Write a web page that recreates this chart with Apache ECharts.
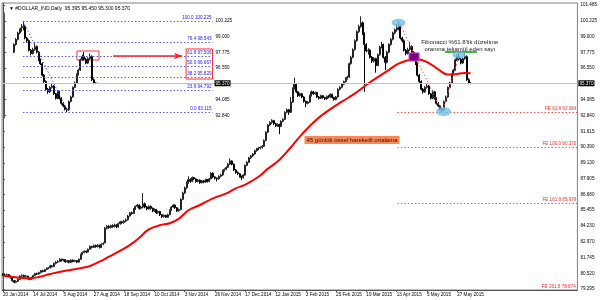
<!DOCTYPE html>
<html><head><meta charset="utf-8">
<script src="https://cdn.jsdelivr.net/npm/echarts@6/dist/echarts.min.js"></script>
<style>html,body{margin:0;padding:0;background:#fff}#c{width:600px;height:300px}</style>
</head><body><div id="c"></div>
<script>
const chartTitle = '\u25BC #DOLLAR_IND,Daily  95.395 95.450 95.300 95.370';
const tickLabels = ['20 Jun 2014','14 Jul 2014','5 Aug 2014','27 Aug 2014','18 Sep 2014','10 Oct 2014','3 Nov 2014','26 Nov 2014','17 Dec 2014','12 Jan 2015','3 Feb 2015','25 Feb 2015','19 Mar 2015','13 Apr 2015','5 May 2015','27 May 2015'];
const barsPerLabel = 16;
const slotCount = 304;
// daily bars: [open, close, low, high]
const ohlc = [
[80.45,80.40,80.30,80.52],[80.40,80.36,80.28,80.48],[80.36,80.42,80.30,80.50],[80.42,80.30,80.22,80.46],[80.30,80.18,80.10,80.35],
[80.18,79.95,79.88,80.22],[79.95,79.82,79.75,80.00],[79.82,79.90,79.76,79.98],[79.90,80.05,79.85,80.10],[80.05,80.30,80.00,80.36],
[80.30,80.36,80.24,80.45],[80.36,80.28,80.20,80.42],[80.28,80.30,80.18,80.38],[80.30,80.12,80.05,80.34],[80.12,80.05,79.98,80.18],
[80.05,80.20,80.00,80.26],[80.20,80.35,80.15,80.42],[80.35,80.50,80.30,80.56],[80.50,80.47,80.40,80.58],[80.47,80.58,80.42,80.65],
[80.58,80.72,80.52,80.78],[80.72,80.66,80.60,80.80],[80.66,80.82,80.62,80.88],[80.82,80.90,80.76,80.98],[80.90,80.95,80.84,81.02],
[80.95,81.10,80.90,81.18],[81.10,81.05,80.98,81.16],[81.05,81.30,81.00,81.36],[81.30,81.40,81.22,81.48],[81.40,81.45,81.32,81.55],
[81.45,81.62,81.40,81.70],[81.62,81.55,81.44,81.68],[81.55,81.58,81.45,81.66],[81.58,81.42,81.35,81.62],[81.42,81.50,81.36,81.58],
[81.50,81.38,81.30,81.56],[81.38,81.55,81.34,81.62],[81.55,81.45,81.38,81.60],[81.45,81.52,81.40,81.58],[81.52,81.40,81.32,81.56],
[81.40,81.62,81.36,81.68],[81.62,82.00,81.58,82.06],[82.00,82.15,81.94,82.22],[82.15,82.25,82.08,82.32],[82.25,82.18,82.10,82.30],
[82.18,82.40,82.14,82.46],[82.40,82.62,82.36,82.70],[82.62,82.55,82.46,82.68],[82.55,82.70,82.50,82.78],[82.70,82.60,82.52,82.76],
[82.60,82.72,82.54,82.80],[82.72,82.55,82.46,82.76],[82.55,82.80,82.50,82.86],[82.80,82.85,82.72,82.95],[82.90,84.05,82.86,84.15],
[84.05,84.20,83.95,84.30],[84.20,84.10,84.00,84.28],[84.10,84.25,84.02,84.32],[84.25,84.18,84.08,84.35],[84.18,84.30,84.10,84.40],
[84.30,84.15,84.05,84.36],[84.15,84.40,84.10,84.48],[84.40,84.55,84.32,84.62],[84.55,84.48,84.38,84.62],[84.48,84.60,84.40,84.70],
[84.60,84.70,84.52,84.80],[84.70,85.00,84.65,85.08],[85.00,85.25,84.95,85.32],[85.25,85.20,85.10,85.35],[85.20,85.55,85.15,85.62],
[85.55,85.75,85.48,85.82],[85.75,85.85,85.66,85.95],[85.85,85.60,85.50,85.90],[85.60,85.70,85.52,85.80],[85.70,85.95,85.60,86.80],
[85.95,85.70,85.60,86.05],[85.70,85.55,85.44,85.78],[85.55,85.75,85.50,85.84],[85.75,85.60,85.50,85.82],[85.60,85.40,85.30,85.66],
[85.40,85.50,85.32,85.60],[85.50,85.25,85.15,85.56],[85.25,85.35,85.18,85.44],[85.35,85.10,85.00,85.40],[85.10,84.95,84.85,85.15],
[84.95,85.05,84.88,85.12],[85.05,84.90,84.84,85.10],[84.90,85.10,84.86,85.18],[85.10,85.45,85.05,85.52],[85.45,85.70,85.40,85.78],
[85.70,85.85,85.62,85.92],[85.85,85.65,85.56,85.90],[85.65,85.40,85.32,85.70],[85.40,85.50,85.34,85.58],[85.50,86.30,85.46,86.38],
[86.30,86.80,86.24,86.90],[86.80,87.20,86.72,87.30],[87.20,87.60,87.12,87.70],[87.60,87.85,87.52,88.10],[87.85,87.70,87.60,87.95],
[87.70,88.00,87.64,88.08],[88.00,87.90,87.80,88.06],[87.90,87.70,87.60,87.95],[87.70,87.80,87.62,87.88],[87.80,87.60,87.52,87.86],
[87.60,87.75,87.55,87.82],[87.75,87.65,87.56,87.80],[87.65,87.85,87.60,87.92],[87.85,87.70,87.62,87.90],[87.70,87.90,87.64,87.98],
[87.90,88.35,87.86,88.42],[88.35,88.05,87.96,88.40],[88.05,87.95,87.85,88.10],[87.95,87.90,87.70,88.02],[87.90,88.10,87.84,88.18],
[88.10,88.20,88.02,88.30],[88.20,88.55,88.14,88.62],[88.55,88.65,88.46,88.72],[88.65,88.80,88.58,88.88],[88.80,89.05,88.74,89.14],
[89.05,89.30,88.98,89.50],[89.30,89.05,88.96,89.36],[89.05,88.60,88.52,89.10],[88.60,88.40,88.30,88.66],[88.40,88.30,88.20,88.48],
[88.30,88.10,88.00,88.36],[88.10,88.00,87.80,88.16],[88.00,88.20,87.92,88.26],[88.20,88.95,88.14,89.02],[88.95,89.20,88.88,89.28],
[89.20,89.55,89.14,89.62],[89.55,89.70,89.46,89.78],[89.70,89.85,89.62,89.92],[89.85,90.10,89.78,90.18],[90.10,90.25,90.02,90.32],
[90.25,90.30,90.14,90.40],[90.30,90.35,90.20,90.44],[90.35,90.45,90.26,90.54],[90.45,90.90,90.40,90.98],[90.90,91.55,90.84,91.62],
[91.55,92.10,91.48,92.18],[92.10,92.30,92.02,92.40],[92.30,92.45,92.18,92.56],[92.45,92.20,92.10,92.52],[92.20,92.05,91.96,92.28],
[92.05,92.15,91.96,92.24],[92.15,92.00,91.40,92.22],[92.00,92.40,91.94,92.48],[92.40,92.55,92.32,92.64],[92.55,93.10,92.50,93.18],
[93.10,93.30,93.02,93.40],[93.30,93.10,92.90,93.36],[93.10,93.90,93.04,94.30],[93.90,94.95,93.84,95.05],[94.95,95.30,94.88,95.80],
[95.30,94.70,94.60,95.36],[94.70,94.40,94.30,94.78],[94.40,94.55,94.32,94.64],[94.55,94.30,94.20,94.62],[94.30,93.95,93.86,94.36],
[93.95,93.80,93.50,94.02],[93.80,93.90,93.72,94.00],[93.90,94.40,93.84,94.48],[94.40,94.70,94.34,94.80],[94.70,94.55,94.46,94.78],
[94.55,94.65,94.48,94.72],[94.65,94.30,94.22,94.70],[94.30,94.20,94.10,94.38],[94.20,94.40,94.14,94.48],[94.40,94.25,94.16,94.46],
[94.25,94.15,94.06,94.32],[94.15,94.35,94.08,94.42],[94.35,94.30,94.20,94.44],[94.30,94.50,94.24,94.58],[94.50,94.25,94.16,94.56],
[94.25,94.10,94.00,94.32],[94.10,94.30,94.04,94.38],[94.30,94.90,94.24,94.98],[94.90,95.05,94.82,95.14],[95.05,95.30,94.98,95.38],
[95.30,95.50,95.22,95.58],[95.50,95.75,95.44,95.84],[95.75,95.85,95.66,95.95],[95.85,96.90,95.80,97.00],[96.90,97.40,96.82,97.52],
[97.40,98.00,97.32,98.10],[98.00,98.70,97.92,98.80],[98.70,99.40,98.62,99.50],[99.40,99.80,99.30,99.95],[99.80,100.10,99.70,100.60],
[100.10,99.25,99.15,100.20],[99.25,98.40,94.70,99.35],[98.40,97.90,97.80,98.50],[97.90,97.95,97.60,98.10],[97.95,97.40,97.30,98.05],
[97.40,97.10,96.95,97.50],[97.10,97.30,97.00,97.42],[97.30,96.75,96.20,97.36],[96.75,97.60,96.70,97.70],[97.60,98.20,97.52,98.30],
[98.20,98.40,98.10,98.60],[98.40,97.40,97.30,98.46],[97.40,97.00,96.40,97.50],[97.00,97.80,96.92,97.90],[97.80,98.40,97.72,98.50],
[98.40,98.80,98.30,98.90],[98.80,99.30,98.72,99.40],[99.30,99.55,99.20,99.65],[99.55,99.70,99.40,100.00],[99.70,99.80,99.50,100.225],
[99.80,98.90,98.80,99.90],[98.90,98.70,98.55,99.00],[98.70,97.95,97.85,98.80],[97.95,97.70,97.55,98.05],[97.70,98.00,97.62,98.15],
[98.00,98.25,97.90,98.60],[98.25,97.80,97.70,98.32],[97.80,97.20,97.10,97.88],[97.20,96.90,96.80,97.30],[96.90,96.00,95.90,97.00],
[96.00,95.50,95.40,96.10],[95.50,94.90,94.80,95.60],[94.90,94.70,94.55,95.00],[94.70,95.05,94.62,95.15],[95.05,95.15,94.95,95.40],
[95.15,94.55,94.45,95.22],[94.55,94.20,94.10,94.62],[94.20,94.70,94.12,94.85],[94.70,94.20,94.10,94.78],[94.20,93.80,93.70,94.28],
[93.80,93.60,93.50,93.90],[93.60,93.35,93.25,93.68],[93.35,93.30,93.115,93.45],[93.30,93.95,93.22,94.02],[93.95,94.30,93.88,94.40],
[94.30,95.05,94.24,95.12],[95.05,95.40,94.98,95.50],[95.40,96.05,95.34,96.14],[96.05,96.40,95.98,96.50],[96.40,97.20,96.34,97.30],
[97.20,97.45,97.10,97.60],[97.45,97.25,97.15,97.80],[97.25,96.95,96.85,97.35],[96.95,97.30,96.88,97.40],[97.30,97.45,97.20,97.70],
[97.45,95.65,95.55,97.55],[95.65,95.40,95.30,95.75],[95.395,95.370,95.300,95.450]
];
// 45-day EMA: [bar index, value]
const ema45 = [[0,80.33],[4,80.26],[9,80.18],[14,80.13],[19,80.24],[25,80.47],[33,80.73],[41,80.92],[46,81.09],[51,81.43],[56,81.82],[62,82.29],[67,82.73],[72,83.30],[77,83.95],[83,84.28],[88,84.43],[93,84.80],[98,85.45],[104,85.86],[111,86.38],[118,86.77],[123,87.16],[128,87.45],[135,88.07],[140,88.70],[146,89.38],[152,90.35],[158,91.40],[165,92.45],[172,93.25],[179,93.93],[186,94.58],[193,95.35],[198,95.85],[204,96.42],[209,96.90],[214,97.17],[219,97.24],[225,96.95],[230,96.45],[235,96.05],[239,96.08],[244,96.18],[247,96.15]];
const priceTicks = [101.485,100.225,99.000,97.775,96.550,94.085,92.840,91.615,90.390,89.130,87.905,86.680,85.455,84.230,82.970,81.745,80.520,79.295];
const insetTicks = [100.225,99.000,97.775,96.550,94.085,92.840];
const lastClose = 95.370;
const fibLevels = [100.0,76.4,61.8,50.0,38.2,23.6,0.0];
const fibValues = [100.225,98.543,97.506,96.667,95.829,94.792,93.115];
const feLevels = [61.8,100.0,161.8,261.8];
const feValues = [93.084,90.370,85.979,78.874];
const emaLabel = '45 günlük üssel hareketli ortalama';
const noteLines = ["Fibonacci %61.8'lik düzeltme", 'oranına tekamül eden sayı'];

// anchors (bar index, price) of the Fibonacci tools
const ptA = [209, 100.225], ptB = [232, 93.115], ptC = [241, 97.48];
const insetOffset = 199, insetFirst = 204, insetSlots = 110;

const categories = Array.from({length: slotCount}, (_, i) => String(i));
const insetCats = Array.from({length: insetSlots}, (_, i) => String(i));
const insetData = insetCats.map((_, j) => { const k = j + insetOffset; return (k >= insetFirst && k < ohlc.length) ? ohlc[k] : '-'; });

const FONT = 'Liberation Sans';
const candleStyle = {color: '#8a8a8a', borderColor: '#222', color0: '#000', borderColor0: '#000', borderWidth: 1};
const chart = echarts.init(document.getElementById('c'), null, {renderer: 'canvas'});
const fs = 4.6;

chart.setOption({
  animation: false,
  backgroundColor: '#fff',
  textStyle: {fontFamily: FONT},
  title: {text: chartTitle, left: 4, top: 1, textStyle: {fontSize: 5, fontWeight: 'normal', color: '#000', fontFamily: FONT}},
  grid: [
    {left: 2, right: 20, top: 3, bottom: 10, show: true, borderColor: '#808080', borderWidth: 1},
    {left: 3.36, width: 209.15, top: 13, height: 105, show: false}
  ],
  xAxis: [
    {type: 'category', gridIndex: 0, data: categories, boundaryGap: true,
     axisLine: {lineStyle: {color: '#555'}},
     axisTick: {show: true, length: 2, alignWithLabel: true, interval: (i) => i % barsPerLabel === 0 && i / barsPerLabel < tickLabels.length, lineStyle: {color: '#555'}},
     axisLabel: {interval: (i) => i % barsPerLabel === 0 && i / barsPerLabel < tickLabels.length,
       formatter: (v, i) => tickLabels[Math.round(i / barsPerLabel)] || '', fontSize: fs, color: '#000', align: 'left', margin: 2}},
    {type: 'category', gridIndex: 1, data: insetCats, boundaryGap: true, show: false},
    {type: 'value', gridIndex: 0, min: -0.5, max: slotCount - 0.5, show: false},
    {type: 'value', gridIndex: 1, min: -0.5, max: insetSlots - 0.5, show: false}
  ],
  yAxis: [
    {type: 'value', gridIndex: 0, position: 'right', min: 79.219, max: 101.641, splitLine: {show: false},
     axisLine: {show: true, lineStyle: {color: '#555'}},
     axisTick: {show: true, length: 2, customValues: priceTicks, lineStyle: {color: '#555'}},
     axisLabel: {customValues: priceTicks, formatter: (v) => v.toFixed(3), fontSize: fs, color: '#000', margin: 3}},
    {type: 'value', gridIndex: 1, position: 'right', min: 92.657, max: 100.860, splitLine: {show: false},
     axisLine: {show: true, lineStyle: {color: '#555'}},
     axisTick: {show: true, length: 2, customValues: insetTicks, lineStyle: {color: '#555'}},
     axisLabel: {customValues: insetTicks, formatter: (v) => v.toFixed(3), fontSize: fs, color: '#000', margin: 3}}
  ],
  series: [
    {type: 'candlestick', xAxisIndex: 0, yAxisIndex: 0, data: ohlc, barWidth: 1.5, itemStyle: candleStyle,
     markLine: {silent: true, symbol: ['none', 'none'], lineStyle: {color: '#c4c4c4', type: 'solid', width: 1},
       label: {position: 'end', distance: 1, formatter: lastClose.toFixed(3), backgroundColor: '#000', color: '#fff', fontSize: fs, padding: [1, 1, 0, 1]},
       data: [{yAxis: lastClose}]}},
    {type: 'line', xAxisIndex: 2, yAxisIndex: 0, data: ema45, smooth: 0.4, showSymbol: false, symbol: 'none',
     lineStyle: {color: '#ff0000', width: 2}, z: 3,
     markPoint: {silent: true, symbol: 'rect', symbolSize: 1, itemStyle: {color: 'rgba(0,0,0,0)'},
       data: [{coord: [184.4, 90.94], label: {show: true, position: 'inside', formatter: emaLabel, backgroundColor: '#f7885a', color: '#3a1000', padding: [1, 2], fontSize: 6}}]}},
    {type: 'line', xAxisIndex: 2, yAxisIndex: 0, data: [], z: 4,
     markLine: {silent: true, symbol: ['none', 'none'],
       label: {show: true, position: 'insideEndTop', distance: 1, fontSize: fs, color: '#ff3030'},
       lineStyle: {color: '#ff5050', type: [1.5, 2], width: 1},
       data: feLevels.slice(0, 3).map((lv, k) => [{coord: [208.4, feValues[k]], label: {formatter: 'FE ' + lv.toFixed(1) + ' ' + feValues[k].toFixed(3)}}, {coord: [slotCount - 0.5, feValues[k]]}])
         .concat([
           [{coord: ptA, label: {show: false}}, {coord: ptB}],
           [{coord: ptB, label: {show: false}}, {coord: ptC}],
           [{coord: [233.5, 97.81], label: {show: false}, lineStyle: {color: '#00a000', type: 'solid', width: 1.5}}, {coord: [250.4, 97.81]}]
         ])},
     markPoint: {silent: true,
       data: [
         {coord: [209, 100.1], symbol: 'circle', symbolSize: [14, 8], itemStyle: {color: 'rgba(110,190,235,0.8)'}, label: {show: false}},
         {coord: [232.8, 93.16], symbol: 'circle', symbolSize: [15, 9], itemStyle: {color: 'rgba(110,190,235,0.8)'}, label: {show: false}},
         {coord: [240.9, 97.58], symbol: 'circle', symbolSize: [13, 7], itemStyle: {color: 'rgba(110,190,235,0.8)'}, label: {show: false}},
         {coord: [217.2, 97.42], symbol: 'rect', symbolSize: [10, 8], itemStyle: {color: '#800080', borderColor: '#c040c0', borderWidth: 1}, label: {show: false}},
         {coord: [241.4, 98.28], symbol: 'rect', symbolSize: 1, itemStyle: {color: 'rgba(0,0,0,0)'},
          label: {show: true, position: 'inside', formatter: noteLines.join('\n'), fontSize: 6, lineHeight: 6.5, color: '#222', align: 'center'}},
         {coord: [slotCount - 0.6, 79.45], symbol: 'rect', symbolSize: 1, itemStyle: {color: 'rgba(0,0,0,0)'},
          label: {show: true, position: 'left', distance: 1, formatter: 'FE ' + feLevels[3].toFixed(1) + ' ' + feValues[3].toFixed(3), fontSize: fs, color: '#ff3030'}}
       ]}},
    {type: 'candlestick', xAxisIndex: 1, yAxisIndex: 1, data: insetData, barWidth: 1.5, itemStyle: candleStyle,
     markLine: {silent: true, symbol: ['none', 'none'], lineStyle: {color: '#c4c4c4', type: 'solid', width: 1},
       label: {position: 'end', distance: 2, formatter: lastClose.toFixed(3), backgroundColor: '#000', color: '#fff', fontSize: fs, padding: [1, 1, 0, 1]},
       data: [{yAxis: lastClose}]}},
    {type: 'line', xAxisIndex: 3, yAxisIndex: 1, data: [], z: 4,
     markLine: {silent: true, symbol: ['none', 'none'],
       label: {show: true, position: 'insideEndTop', distance: 1, fontSize: fs, color: '#2020ff'},
       lineStyle: {color: '#5a5aff', type: [1.5, 2], width: 1},
       data: fibLevels.map((lv, k) => [{coord: [ptA[0] - insetOffset - 0.17, fibValues[k]], label: {formatter: lv.toFixed(1) + ' ' + fibValues[k].toFixed(3)}}, {coord: [insetSlots - 0.5, fibValues[k]]}])
         .concat([
           [{coord: [ptA[0] - insetOffset - 0.17, ptA[1]], label: {show: false}}, {coord: [ptB[0] - insetOffset + 0.5, ptB[1]]}],
           [{coord: [57.2, 97.5], label: {show: false}, lineStyle: {color: '#ff2020', type: 'solid', width: 1.5}}, {coord: [93.5, 97.5], symbol: 'arrow', symbolSize: [5, 8]}]
         ])},
     markArea: {silent: true, itemStyle: {color: 'rgba(0,0,0,0)', borderColor: '#ff3030', borderWidth: 1},
       data: [
         [{coord: [38.2, 97.89]}, {coord: [49.8, 97.19]}],
         [{coord: [95.6, 98.05]}, {coord: [insetSlots - 0.5, 95.70]}]
       ]}}
  ]
});
</script></body></html>
